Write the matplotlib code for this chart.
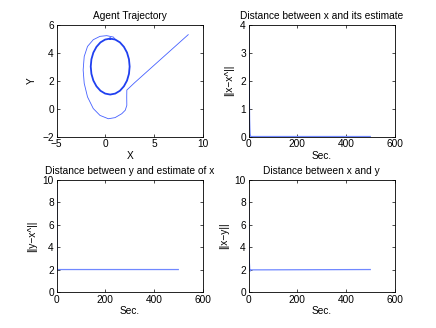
import matplotlib
matplotlib.use("Agg")
import matplotlib.pyplot as plt

plt.rcParams['font.family'] = ['Liberation Sans', 'DejaVu Sans']
plt.rcParams['font.size'] = 7.3

# Agent trajectory: approach path
path_x = [8.52, 3.00, 2.21, 2.20, 2.21, 2.05, 1.69, 1.00, 0.31, -0.55, -1.24, -1.83,
          -2.17, -2.28, -2.17, -1.83, -1.24, -0.55, 0.14, 0.83, 1.02]
path_y = [5.28, 1.84, 1.32, 0.80, 0.23, -0.12, -0.37, -0.65, -0.73, -0.49, 0.00, 0.83,
          1.80, 2.76, 3.72, 4.44, 4.92, 5.16, 5.21, 5.11, 4.93]
# limit cycle (clockwise from top)
circ_x = [0.5, 1.02, 1.5, 1.91, 2.23, 2.43, 2.5, 2.43, 2.23, 1.91, 1.5, 1.02, 0.5,
          -0.02, -0.5, -0.91, -1.23, -1.43, -1.5, -1.43, -1.23, -0.91, -0.5, -0.02, 0.5]
circ_y = [5.0, 4.93, 4.73, 4.41, 4.0, 3.52, 3.0, 2.48, 2.0, 1.59, 1.27, 1.07, 1.0,
          1.07, 1.27, 1.59, 2.0, 2.48, 3.0, 3.52, 4.0, 4.41, 4.73, 4.93, 5.0]

# Distance between x and its estimate
t1 = [0, 1, 2, 3, 4, 5, 6, 8, 500]
d1 = [3.9, 2.9, 2.0, 1.2, 0.6, 0.3, 0.1, 0.0, 0.0]
# Distance between y and estimate of x
t2 = [0, 0.5, 1, 2, 500]
d2 = [9.5, 5.0, 2.1, 2.0, 2.0]
# Distance between x and y
t3 = [0, 0.5, 1, 3, 5, 8, 500]
d3 = [8.5, 5.0, 3.7, 2.6, 1.85, 1.97, 2.0]

fig = plt.figure(figsize=(4.36, 3.28), dpi=100)
pos = [[0.13, 0.5838, 0.3347, 0.3412], [0.5703, 0.5838, 0.3347, 0.3412],
       [0.13, 0.11, 0.3347, 0.3412], [0.5703, 0.11, 0.3347, 0.3412]]
axs = [fig.add_axes(p) for p in pos]

col_path = '#4560ff'
col_circ = '#2040f0'
col_ts = '#7088ff'

def style(ax):
    for s in ax.spines.values():
        s.set_linewidth(0.6)
        s.set_color('black')
    ax.tick_params(direction='in', length=2.5, width=0.5, top=True, right=True,
                   pad=2, labelsize=7.3)

ax = axs[0]
ax.plot(path_x, path_y, color=col_path, lw=0.6)
ax.plot(circ_x, circ_y, color=col_circ, lw=1.3)
ax.set_xlim(-5, 10); ax.set_ylim(-2, 6)
ax.set_xticks([-5, 0, 5, 10]); ax.set_yticks([-2, 0, 2, 4, 6])
ax.set_title('Agent Trajectory', fontsize=7.3, pad=4)
ax.set_xlabel('X', labelpad=1); ax.set_ylabel('Y', labelpad=4)

ax = axs[1]
ax.plot(t1, d1, color=col_ts, lw=0.9)
ax.set_xlim(0, 600); ax.set_ylim(0, 4)
ax.set_xticks([0, 200, 400, 600]); ax.set_yticks([0, 1, 2, 3, 4])
ax.set_title('Distance between x and its estimate', fontsize=7.3, pad=4)
ax.set_xlabel('Sec.', labelpad=1); ax.set_ylabel('||x−x^||', labelpad=4)

ax = axs[2]
ax.plot(t2, d2, color=col_ts, lw=0.9)
ax.set_xlim(0, 600); ax.set_ylim(0, 10)
ax.set_xticks([0, 200, 400, 600]); ax.set_yticks([0, 2, 4, 6, 8, 10])
ax.set_title('Distance between y and estimate of x', fontsize=7.3, pad=4)
ax.set_xlabel('Sec.', labelpad=1); ax.set_ylabel('||y−x^||', labelpad=4)

ax = axs[3]
ax.plot(t3, d3, color=col_ts, lw=0.9)
ax.set_xlim(0, 600); ax.set_ylim(0, 10)
ax.set_xticks([0, 200, 400, 600]); ax.set_yticks([0, 2, 4, 6, 8, 10])
ax.set_title('Distance between x and y', fontsize=7.3, pad=4)
ax.set_xlabel('Sec.', labelpad=1); ax.set_ylabel('||x−y||', labelpad=4)

for a in axs:
    style(a)

fig.savefig('out.png', dpi=100)
